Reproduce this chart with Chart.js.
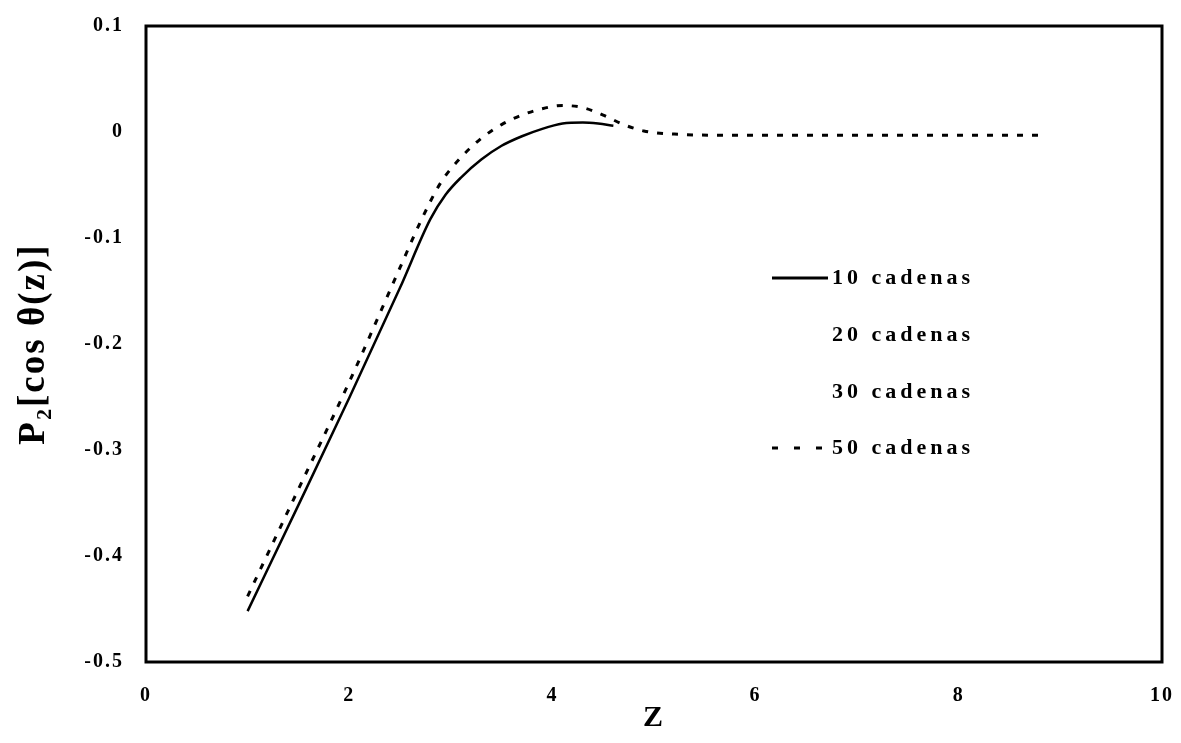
<!DOCTYPE html>
<html>
<head>
<meta charset="utf-8">
<script src="https://cdn.jsdelivr.net/npm/chart.js"></script>
<style>
  html, body { margin: 0; padding: 0; background: #fff; }
  #wrap { width: 1181px; height: 743px; }
</style>
</head>
<body>
<div id="wrap"><canvas id="orderChart" width="1181" height="743"></canvas></div>
<script>
// Order parameter P2 along z for systems of different chain counts
const zTicks = [0, 2, 4, 6, 8, 10];
const pTicks = [-0.5, -0.4, -0.3, -0.2, -0.1, 0, 0.1];

const z10 = [1.0, 1.5, 2.0, 2.5, 2.8, 2.95, 3.1, 3.3, 3.5, 3.7, 3.9, 4.1, 4.3, 4.45, 4.6];
const p10 = [-0.452, -0.352, -0.251, -0.147, -0.082, -0.059, -0.043, -0.026, -0.013, -0.004, 0.003, 0.008, 0.009, 0.008, 0.006];

const z50 = [1.0, 1.5, 2.0, 2.5, 2.7, 2.9, 3.1, 3.3, 3.5, 3.7, 3.9, 4.1, 4.3, 4.5, 4.7, 4.9, 5.2, 5.6, 6.0, 7.0, 8.0, 8.8];
const p50 = [-0.438, -0.337, -0.236, -0.128, -0.085, -0.048, -0.024, -0.006, 0.007, 0.016, 0.022, 0.025, 0.023, 0.016, 0.007, 0.001, -0.002, -0.003, -0.003, -0.003, -0.003, -0.003];

const seriesNames = ['10 cadenas', '20 cadenas', '30 cadenas', '50 cadenas'];

const toPoints = (xs, ys) => xs.map((x, i) => ({ x: x, y: ys[i] }));

const serif = 'Liberation Serif, Times New Roman, serif';

// frame around the plot area plus the legend placed inside it
const framePlugin = {
  id: 'frame',
  beforeDraw(chart) {
    chart.ctx.letterSpacing = '2px';
  },
  afterDraw(chart) {
    const { ctx, chartArea: a } = chart;
    ctx.save();
    ctx.strokeStyle = '#000';
    ctx.lineWidth = 3;
    ctx.strokeRect(a.left, a.top, a.right - a.left, a.bottom - a.top);

    const lx = 772, lw = 56, rowY = [278, 335, 392, 448];
    ctx.font = 'bold 22px ' + serif;
    ctx.letterSpacing = '4px';
    ctx.textBaseline = 'middle';
    ctx.fillStyle = '#000';
    chart.data.datasets.forEach((ds, i) => {
      const y = rowY[i];
      if (ds.borderColor !== 'transparent') {
        ctx.beginPath();
        ctx.strokeStyle = ds.borderColor;
        ctx.lineWidth = 3;
        ctx.setLineDash(ds.borderDash ? [6, 16] : []);
        ctx.moveTo(lx, y);
        ctx.lineTo(lx + lw, y);
        ctx.stroke();
        ctx.setLineDash([]);
      }
      ctx.fillText(ds.label, lx + lw + 4, y);
    });
    ctx.restore();
  }
};

new Chart(document.getElementById('orderChart'), {
  type: 'line',
  data: {
    datasets: [
      {
        label: seriesNames[0],
        data: toPoints(z10, p10),
        borderColor: '#000',
        borderWidth: 2.5,
        pointRadius: 0,
        cubicInterpolationMode: 'monotone'
      },
      { label: seriesNames[1], data: [], borderColor: 'transparent', borderWidth: 0, pointRadius: 0 },
      { label: seriesNames[2], data: [], borderColor: 'transparent', borderWidth: 0, pointRadius: 0 },
      {
        label: seriesNames[3],
        data: toPoints(z50, p50),
        borderColor: '#000',
        borderWidth: 3,
        borderDash: [6, 9],
        pointRadius: 0,
        cubicInterpolationMode: 'monotone'
      }
    ]
  },
  options: {
    responsive: false,
    animation: false,
    layout: { padding: { top: 26, right: 19, left: 0, bottom: 0 } },
    plugins: {
      legend: { display: false },
      tooltip: { enabled: false }
    },
    scales: {
      x: {
        type: 'linear',
        min: zTicks[0],
        max: zTicks[zTicks.length - 1],
        afterBuildTicks: (scale) => { scale.ticks = zTicks.map(v => ({ value: v })); },
        afterFit: (scale) => {
          scale.height = 81;
          scale.paddingLeft = 0;
          scale.paddingRight = 0;
        },
        grid: { display: false, drawTicks: false },
        border: { display: false },
        ticks: {
          padding: 22,
          color: '#000',
          font: { family: serif, size: 20, weight: 'bold' }
        },
        title: {
          display: true,
          text: 'Z',
          color: '#000',
          font: { family: serif, size: 30, weight: 'bold' },
          padding: { top: 0, bottom: 7 }
        }
      },
      y: {
        type: 'linear',
        min: pTicks[0],
        max: pTicks[pTicks.length - 1],
        afterBuildTicks: (scale) => { scale.ticks = pTicks.map(v => ({ value: v })); },
        afterFit: (scale) => {
          scale.width = 146;
          scale.paddingTop = 0;
          scale.paddingBottom = 0;
        },
        grid: { display: false, drawTicks: false },
        border: { display: false },
        ticks: {
          padding: 22,
          color: '#000',
          font: { family: serif, size: 20, weight: 'bold' },
          callback: (v) => String(Math.round(v * 10) / 10)
        },
        title: {
          display: true,
          text: 'P\u2082[cos \u03b8(z)]',
          color: '#000',
          font: { family: serif, size: 37, weight: 'bold' },
          padding: { top: 12, bottom: 0 }
        }
      }
    }
  },
  plugins: [framePlugin]
});
</script>
</body>
</html>
